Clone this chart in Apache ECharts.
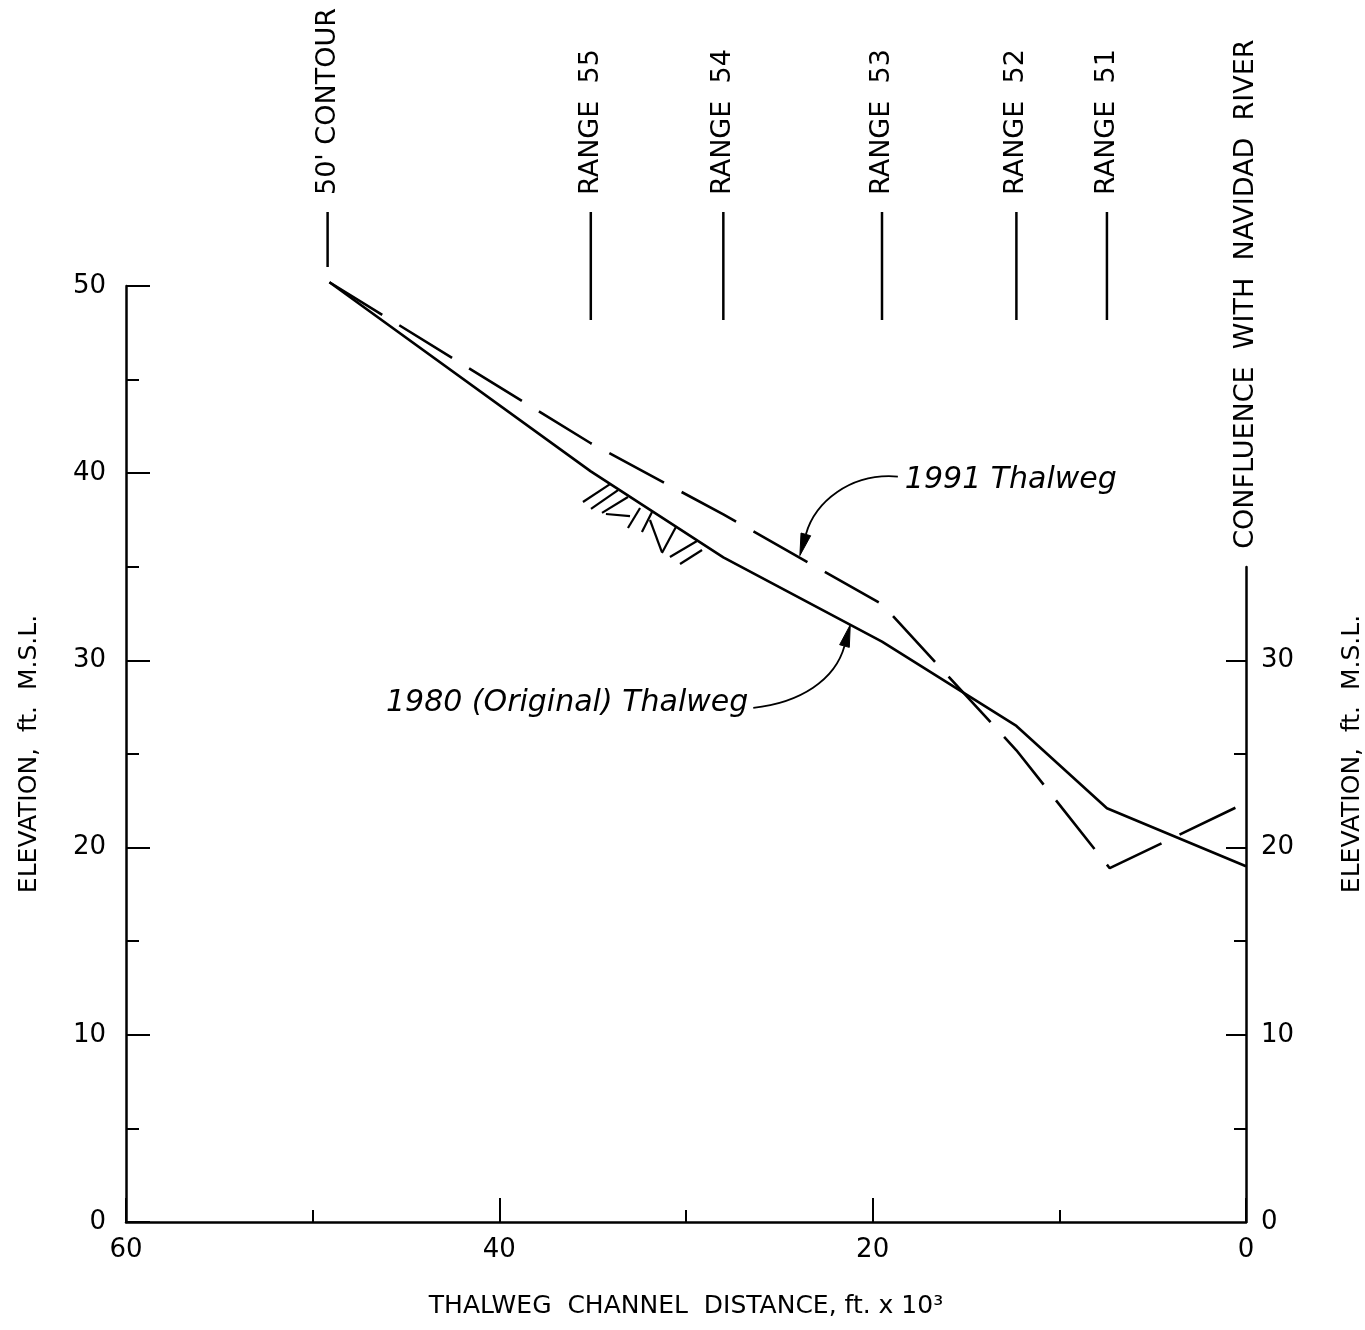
<!DOCTYPE html>
<html>
<head>
<meta charset="utf-8">
<script src="https://cdn.jsdelivr.net/npm/echarts@6/dist/echarts.min.js"></script>
<style>
html,body{margin:0;padding:0;background:#fff;}
#chart{width:1365px;height:1330px;}
</style>
</head>
<body>
<div id="chart"></div>
<script>
// ---- data ----
const dist1980 = [49.1, 35.1, 28.0, 19.5, 12.3, 7.45, 0];
const elev1980 = [50.2, 40.1, 35.5, 31.0, 26.5, 22.1, 19.0];
const dist1991 = [49.1, 35.1, 28.0, 19.5, 12.3, 7.3, 0];
const elev1991 = [50.2, 41.6, 37.8, 33.0, 25.2, 18.9, 22.4];

const xTickLabels = [60, 40, 20, 0];
const yTickLabelsLeft = [0, 10, 20, 30, 40, 50];
const yTickLabelsRight = [0, 10, 20, 30];
const yMinorRight = [5, 15, 25];
const yMajorRight = [10, 20, 30];

const markerNames = ["50' CONTOUR", "RANGE  55", "RANGE  54", "RANGE  53", "RANGE  52", "RANGE  51"];
const markerDist = [49.2, 35.1, 28.0, 19.5, 12.3, 7.45];

const confluenceName = "CONFLUENCE  WITH  NAVIDAD  RIVER";
const confluenceDist = 0;
const confluenceTopElev = 35;

const annotLabels = ["1991 Thalweg", "1980 (Original) Thalweg"];
const annotTipDist = [23.9, 21.2];
const annotTipElev = [35.6, 31.9];

// erosion hatch strokes: [dist1, elev1, dist2, elev2]
const hatchStrokes = [
  [35.52, 38.46, 34.07, 39.42],
  [35.09, 38.09, 33.64, 39.10],
  [34.50, 37.88, 33.11, 38.73],
  [34.29, 37.82, 33.00, 37.71],
  [33.11, 37.07, 32.46, 38.14],
  [32.36, 36.86, 31.82, 37.93],
  [31.93, 37.50, 31.29, 35.79],
  [31.29, 35.74, 30.54, 37.13],
  [30.86, 35.52, 29.41, 36.38],
  [30.32, 35.15, 29.14, 35.90]
];

// ---- presentation ----
const FONT = '"DejaVu Sans", sans-serif';
const BLACK = '#000';

const chart = echarts.init(document.getElementById('chart'), null, {renderer: 'canvas'});

const annotLayout = [
  {text: [105, -75], align: 'left', start: [98, -79], c1: [50, -83], c2: [15, -53]},
  {text: [-102, 78], align: 'right', start: [-97, 83], c1: [-50, 78], c2: [-15, 55]}
];

const option = {
  backgroundColor: '#fff',
  animation: false,
  grid: [
    {left: 126, right: 119, top: 286, bottom: 108, containLabel: false, outerBoundsMode: 'none'},
    {left: 126, right: 119, top: 567, bottom: 108, containLabel: false, outerBoundsMode: 'none'}
  ],
  xAxis: [
    {
      gridIndex: 0, type: 'value', min: 0, max: 60, interval: 20, inverse: true,
      axisLine: {show: true, onZero: false, lineStyle: {color: BLACK, width: 2.5}},
      axisTick: {show: true, inside: true, length: 24, lineStyle: {color: BLACK, width: 2}},
      minorTick: {show: true, splitNumber: 2, length: 12, lineStyle: {color: BLACK, width: 2}},
      splitLine: {show: false}, minorSplitLine: {show: false},
      axisLabel: {color: BLACK, fontSize: 26, fontFamily: FONT, margin: 15,
        customValues: xTickLabels},
      name: 'THALWEG  CHANNEL  DISTANCE, ft. x 10³',
      nameLocation: 'middle', nameGap: 72,
      nameTextStyle: {color: BLACK, fontSize: 25, fontFamily: FONT}
    },
    {gridIndex: 1, type: 'value', min: 0, max: 60, inverse: true, show: false}
  ],
  yAxis: [
    {
      gridIndex: 0, type: 'value', min: 0, max: 50, interval: 10, position: 'left',
      axisLine: {show: true, onZero: false, lineStyle: {color: BLACK, width: 2.5}},
      axisTick: {show: true, inside: true, length: 24, lineStyle: {color: BLACK, width: 2}},
      minorTick: {show: true, splitNumber: 2, length: 13, lineStyle: {color: BLACK, width: 2}},
      splitLine: {show: false}, minorSplitLine: {show: false},
      axisLabel: {color: BLACK, fontSize: 26, fontFamily: FONT, margin: 20,
        customValues: yTickLabelsLeft},
      name: 'ELEVATION,  ft.  M.S.L.', nameLocation: 'middle', nameRotate: 90, nameGap: 84,
      nameTextStyle: {color: BLACK, fontSize: 25, fontFamily: FONT}
    },
    {
      gridIndex: 0, type: 'value', min: 0, max: 50, interval: 10, position: 'right',
      axisLine: {show: false},
      axisTick: {show: true, inside: true, length: 12, customValues: yMinorRight,
        lineStyle: {color: BLACK, width: 2}},
      axisLabel: {show: false},
      splitLine: {show: false},
      name: 'ELEVATION,  ft.  M.S.L.', nameLocation: 'middle', nameRotate: 90, nameGap: 94,
      nameTextStyle: {color: BLACK, fontSize: 25, fontFamily: FONT}
    },
    {
      gridIndex: 1, type: 'value', min: 0, max: 35, interval: 5, position: 'right',
      axisLine: {show: true, onZero: false, lineStyle: {color: BLACK, width: 2.5}},
      axisTick: {show: true, inside: true, length: 20, customValues: yMajorRight,
        lineStyle: {color: BLACK, width: 2}},
      axisLabel: {color: BLACK, fontSize: 26, fontFamily: FONT, margin: 15,
        customValues: yTickLabelsRight},
      splitLine: {show: false}
    }
  ],
  series: [
    {
      name: '1980 (Original) Thalweg', type: 'line', xAxisIndex: 0, yAxisIndex: 0,
      data: dist1980.map((d, i) => [d, elev1980[i]]),
      symbol: 'none', clip: false, smooth: false,
      lineStyle: {color: BLACK, width: 2.6}, z: 5
    },
    {
      name: '1991 Thalweg', type: 'line', xAxisIndex: 0, yAxisIndex: 0,
      data: dist1991.map((d, i) => [d, elev1991[i]]),
      symbol: 'none', clip: false, smooth: false,
      lineStyle: {color: BLACK, width: 2.6, type: [62, 20]}, z: 5
    },
    {
      name: 'hatch', type: 'custom', xAxisIndex: 0, yAxisIndex: 0, clip: false,
      data: hatchStrokes,
      encode: {x: [0, 2], y: [1, 3]},
      renderItem: function (params, api) {
        const p1 = api.coord([api.value(0), api.value(1)]);
        const p2 = api.coord([api.value(2), api.value(3)]);
        return {type: 'line', shape: {x1: p1[0], y1: p1[1], x2: p2[0], y2: p2[1]},
          style: {stroke: BLACK, lineWidth: 2.2}};
      }
    },
    {
      name: 'markers', type: 'custom', xAxisIndex: 0, yAxisIndex: 0, clip: false,
      data: markerDist.map(d => [d, 50]),
      encode: {x: 0, y: 1},
      renderItem: function (params, api) {
        const i = params.dataIndex;
        const p = api.coord([api.value(0), api.value(1)]);
        const x = p[0], top = p[1];
        const lineBottom = i === 0 ? top - 19 : top + 34;
        return {type: 'group', children: [
          {type: 'line', shape: {x1: x, y1: top - 74, x2: x, y2: lineBottom},
            style: {stroke: BLACK, lineWidth: 2.5}},
          {type: 'text', x: x, y: top - 91, rotation: Math.PI / 2,
            style: {text: markerNames[i], fill: BLACK, fontSize: 27, fontFamily: FONT,
              align: 'left', verticalAlign: 'middle'}}
        ]};
      }
    },
    {
      name: 'confluence', type: 'custom', xAxisIndex: 0, yAxisIndex: 0, clip: false,
      data: [[confluenceDist, confluenceTopElev]],
      encode: {x: 0, y: 1},
      renderItem: function (params, api) {
        const p = api.coord([api.value(0), api.value(1)]);
        return {type: 'text', x: p[0], y: p[1] - 18, rotation: Math.PI / 2,
          style: {text: confluenceName, fill: BLACK, fontSize: 27, fontFamily: FONT,
            align: 'left', verticalAlign: 'middle'}};
      }
    },
    {
      name: 'annotations', type: 'custom', xAxisIndex: 0, yAxisIndex: 0, clip: false,
      data: annotTipDist.map((d, i) => [d, annotTipElev[i]]),
      encode: {x: 0, y: 1},
      renderItem: function (params, api) {
        const i = params.dataIndex;
        const L = annotLayout[i];
        const tip = api.coord([api.value(0), api.value(1)]);
        const tx = tip[0], ty = tip[1];
        const c2x = tx + L.c2[0], c2y = ty + L.c2[1];
        let dx = tx - c2x, dy = ty - c2y;
        const len = Math.sqrt(dx * dx + dy * dy);
        dx /= len; dy /= len;
        const px = -dy, py = dx;
        const hl = 22, hw = 5;
        const bx = tx - dx * hl, by = ty - dy * hl;
        return {type: 'group', children: [
          {type: 'bezierCurve', shape: {
              x1: tx + L.start[0], y1: ty + L.start[1],
              cpx1: tx + L.c1[0], cpy1: ty + L.c1[1],
              cpx2: c2x, cpy2: c2y,
              x2: bx, y2: by},
            style: {stroke: BLACK, lineWidth: 1.8, fill: null}},
          {type: 'polygon', shape: {points: [[tx, ty], [bx + px * hw, by + py * hw], [bx - px * hw, by - py * hw]]},
            style: {fill: BLACK, stroke: BLACK, lineWidth: 1}},
          {type: 'text', x: tx + L.text[0], y: ty + L.text[1],
            style: {text: annotLabels[i], fill: BLACK, fontSize: 30, fontStyle: 'italic',
              fontFamily: FONT, align: L.align, verticalAlign: 'middle'}}
        ]};
      }
    }
  ]
};

chart.setOption(option);
</script>
</body>
</html>
